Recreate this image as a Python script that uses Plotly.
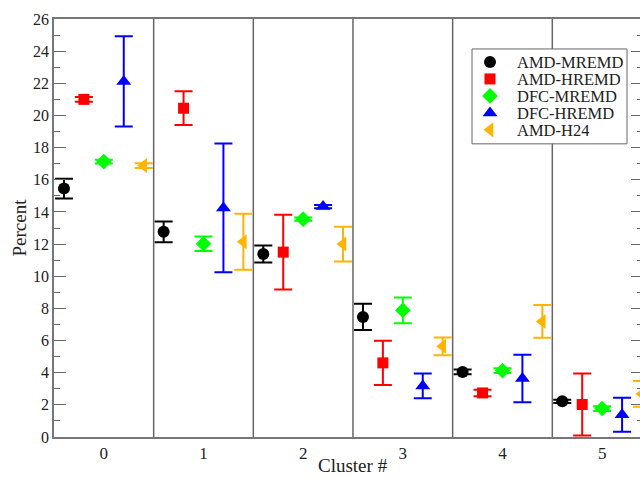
import plotly.graph_objects as go

clusters = [0, 1, 2, 3, 4, 5]
series_names = ["AMD-MREMD", "AMD-HREMD", "DFC-MREMD", "DFC-HREMD", "AMD-H24"]
offsets = [-0.4, -0.2, 0.0, 0.2, 0.4]

amd_mremd = [15.45, 12.76, 11.38, 7.47, 4.05, 2.22]
amd_mremd_err = [0.62, 0.65, 0.53, 0.82, 0.15, 0.1]
amd_hremd = [21.0, 20.45, 11.5, 4.61, 2.74, 2.02]
amd_hremd_err = [0.15, 1.05, 2.32, 1.37, 0.2, 1.93]
dfc_mremd = [17.13, 12.02, 13.55, 7.88, 4.13, 1.77]
dfc_mremd_err = [0.12, 0.45, 0.1, 0.8, 0.15, 0.15]
dfc_hremd = [22.12, 14.25, 14.33, 3.18, 3.64, 1.38]
dfc_hremd_err = [2.8, 4.0, 0.1, 0.77, 1.48, 1.06]
amd_h24 = [16.88, 12.14, 12.0, 5.64, 7.19, 2.68]
amd_h24_err = [0.15, 1.74, 1.08, 0.55, 1.02, 0.8]

values = [amd_mremd, amd_hremd, dfc_mremd, dfc_hremd, amd_h24]
errors = [amd_mremd_err, amd_hremd_err, dfc_mremd_err, dfc_hremd_err, amd_h24_err]
colors = ["#000000", "#ff0000", "#00ff00", "#0000ff", "#ffb400"]
symbols = ["circle", "square", "diamond", "triangle-up", "triangle-left"]
sizes = [12, 11, 12, 13, 13]

FONT = "Liberation Serif"
TXT = "#222222"

# figure geometry (pixels)
W, H = 643, 479
L, T, B = 54, 19, 41.5
PW, PH = W - L, H - T - B
XR = [-0.5, 5.41]
YR = [0, 26]


def px(x):
    return (x - L) / PW


def py(y):
    return (H - B - y) / PH


def dx(x):
    return XR[0] + px(x) * (XR[1] - XR[0])


def dy(y):
    return YR[0] + py(y) * (YR[1] - YR[0])


fig = go.Figure()
for name, vals, errs, col, sym, sz, off in zip(series_names, values, errors, colors, symbols, sizes, offsets):
    fig.add_trace(go.Scatter(
        x=[c + off for c in clusters], y=vals, name=name, mode="markers",
        marker=dict(color=col, symbol=sym, size=sz, opacity=1, line=dict(width=0)),
        error_y=dict(type="data", array=errs, visible=True, color=col, thickness=2, width=9),
        cliponaxis=False, showlegend=False,
    ))

# cluster separators
for i in range(len(clusters) - 1):
    fig.add_shape(type="line", xref="x", yref="paper", x0=clusters[i] + 0.5, x1=clusters[i] + 0.5,
                  y0=0, y1=1, line=dict(color="#666666", width=1.5), layer="below")

# hand-built legend (box, symbols, labels)
LB_X0, LB_X1, LB_Y0, LB_Y1 = 472, 627, 49, 144
row_y = [62, 79, 96, 113, 130]
fig.add_shape(type="rect", xref="paper", yref="paper", x0=px(LB_X0), x1=px(LB_X1),
              y0=py(LB_Y1), y1=py(LB_Y0), line=dict(color="#666666", width=1), fillcolor="white",
              layer="below")
fig.add_trace(go.Scatter(
    x=[dx(490)] * len(series_names), y=[dy(r) for r in row_y],
    mode="markers", marker=dict(color=colors, symbol=symbols, size=sizes, opacity=1, line=dict(width=0)),
    showlegend=False, hoverinfo="skip", cliponaxis=False,
))
annotations = []
for name, r in zip(series_names, row_y):
    annotations.append(dict(text=name, xref="paper", yref="paper", x=px(515), y=py(r),
                            xanchor="left", yanchor="middle", showarrow=False, height=16,
                            font=dict(size=16.5, family=FONT, color=TXT)))
annotations.append(dict(text="Cluster #", xref="paper", yref="paper", x=px(353), y=py(466),
                        xanchor="center", yanchor="middle", showarrow=False,
                        font=dict(size=19, family=FONT, color=TXT)))

fig.update_layout(
    width=W, height=H,
    margin=dict(l=L, r=0, t=T, b=B, autoexpand=False),
    paper_bgcolor="white", plot_bgcolor="white",
    font=dict(family=FONT, size=16, color=TXT),
    showlegend=False,
    xaxis=dict(range=XR, tickvals=clusters, ticktext=[str(c) for c in clusters],
               showgrid=False, zeroline=False, showline=True, linecolor="#777777", linewidth=1.5,
               mirror=True, ticks="", tickfont=dict(size=17), automargin=False),
    yaxis=dict(range=YR, dtick=2, showgrid=False, zeroline=False, showline=True,
               linecolor="#777777", linewidth=1.5, mirror="ticks", ticks="inside", ticklen=12,
               tickcolor="#666666",
               minor=dict(dtick=1, ticks="inside", ticklen=6, tickcolor="#666666"),
               tickfont=dict(size=16), automargin=False,
               title=dict(text="Percent", font=dict(size=19), standoff=1)),
    annotations=annotations,
)

fig.write_html(
    "out.html",
    config={"displayModeBar": False},
    post_script=("document.body.style.margin='0';document.body.style.padding='0';"
                 "document.documentElement.style.overflow='hidden';"
                 "document.body.style.overflow='hidden';"),
)
